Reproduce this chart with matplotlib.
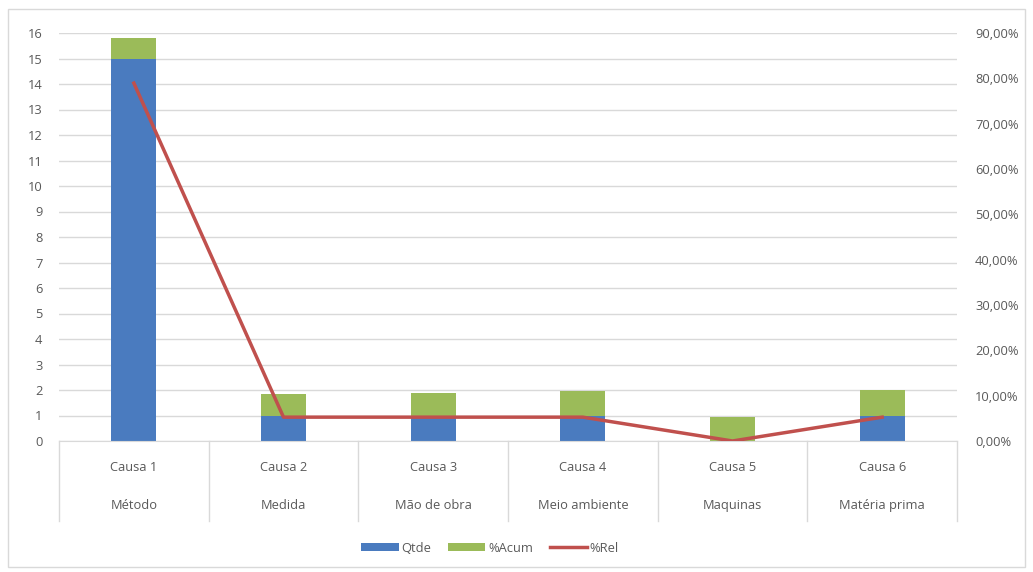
import matplotlib
matplotlib.use("Agg")
import matplotlib.pyplot as plt
from matplotlib.patches import Rectangle, Patch
from matplotlib.lines import Line2D
from matplotlib.ticker import FuncFormatter, MultipleLocator
import numpy as np

causas = ['Causa 1', 'Causa 2', 'Causa 3', 'Causa 4', 'Causa 5', 'Causa 6']
tipos = ['Método', 'Medida', 'Mão de obra', 'Meio ambiente', 'Maquinas', 'Matéria prima']
qtde = [15, 1, 1, 1, 0, 1]
acum = [0.7895, 0.8421, 0.8947, 0.9474, 0.9474, 1.0]
rel = [0.7895, 0.0526, 0.0526, 0.0526, 0.0, 0.0526]

BLUE = '#4A7BBF'
GREEN = '#9BBB59'
RED = '#C0504D'
GRID = '#D9D9D9'
TXT = '#595959'
FS = 9.3

plt.rcParams['font.family'] = ['Open Sans', 'DejaVu Sans']

fig = plt.figure(figsize=(10.33, 5.72), dpi=100)
W, H = 1033, 572
ax = fig.add_axes([59 / W, 1 - 441 / H, (957 - 59) / W, (441 - 33) / H])

x = np.arange(len(causas))
ax.bar(x, qtde, width=0.3, color=BLUE, zorder=2)
ax.bar(x, acum, width=0.3, bottom=qtde, color=GREEN, zorder=2)

ax.set_xlim(-0.5, len(causas) - 0.5)
ax.set_ylim(0, 16)
ax.yaxis.set_major_locator(MultipleLocator(1))
ax.grid(axis='y', color=GRID, linewidth=1, zorder=0)
ax.set_axisbelow(True)
for s in ['top', 'right', 'left']:
    ax.spines[s].set_visible(False)
ax.spines['bottom'].set_color(GRID)
ax.set_xticks([])
ax.tick_params(axis='y', length=0, pad=12, labelsize=FS, labelcolor=TXT)

ax2 = ax.twinx()
ax2.plot(x, rel, color=RED, linewidth=2.5, zorder=3)
ax2.set_ylim(0, 0.9)
ax2.yaxis.set_major_locator(MultipleLocator(0.1))
ax2.yaxis.set_major_formatter(FuncFormatter(lambda v, p: f"{v*100:.2f}%".replace('.', ',')))
ax2.tick_params(axis='y', length=0, pad=13, labelsize=FS, labelcolor=TXT)
for s in ['top', 'right', 'left', 'bottom']:
    ax2.spines[s].set_visible(False)

# category separators
tr = ax.get_xaxis_transform()
for b in np.arange(-0.5, len(causas), 1.0):
    ax.plot([b, b], [0, -0.195], transform=tr, color=GRID, linewidth=1, clip_on=False)
for i, (c, t) in enumerate(zip(causas, tipos)):
    ax.text(i, -0.064, c, transform=tr, ha='center', va='center', fontsize=FS, color=TXT)
    ax.text(i, -0.157, t, transform=tr, ha='center', va='center', fontsize=FS, color=TXT)

handles = [Patch(facecolor=BLUE, edgecolor='none'),
           Patch(facecolor=GREEN, edgecolor='none'),
           Line2D([0], [0], color=RED, linewidth=2.5)]
fig.legend(handles, ['Qtde', '%Acum', '%Rel'], loc='center',
           bbox_to_anchor=(490 / W, 1 - 548 / H), ncol=3, frameon=False,
           fontsize=FS, handlelength=2.9, handleheight=0.6, handletextpad=0.2,
           columnspacing=1.3, labelcolor=TXT)

fig.patches.append(Rectangle((8 / W, 1 - 567 / H), (1025 - 8) / W, (567 - 9) / H,
                             transform=fig.transFigure, fill=False,
                             edgecolor=GRID, linewidth=1))

fig.savefig('out.png', dpi=100)
